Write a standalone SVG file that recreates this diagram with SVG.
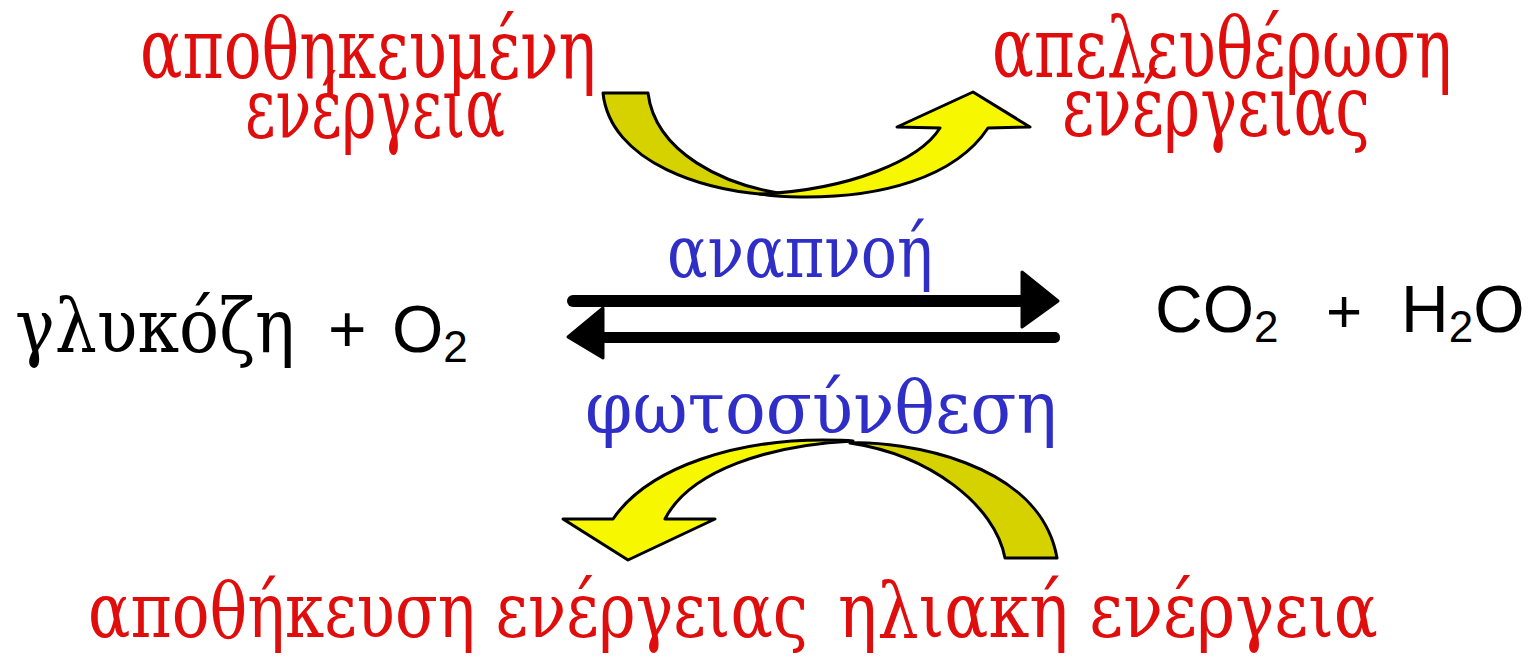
<svg xmlns="http://www.w3.org/2000/svg" width="1532" height="657" viewBox="0 0 1532 657">
<style>
.red{font-family:"DejaVu Serif","Liberation Serif",serif;fill:#e00d0d;}
.blue{font-family:"DejaVu Serif","Liberation Serif",serif;fill:#2f2fc8;}
.ser{font-family:"DejaVu Serif","Liberation Serif",serif;fill:#000;}
.sans{font-family:"Liberation Sans",Arial,sans-serif;fill:#000;}
.dark{fill:#d6d200;stroke:#000;stroke-width:3;stroke-linejoin:round;}
.bright{fill:#f7f700;stroke:#000;stroke-width:3;stroke-linejoin:round;}
</style>
<rect width="1532" height="657" fill="#fff"/>
<g id="stored-energy">
<text class="red" x="140" y="78" font-size="84" textLength="456" lengthAdjust="spacingAndGlyphs">αποθηκευμένη</text>
<text class="red" x="245" y="137" font-size="84" textLength="260" lengthAdjust="spacingAndGlyphs">ενέργεια</text>
</g>
<g id="release-energy">
<text class="red" x="992" y="77" font-size="84" textLength="460" lengthAdjust="spacingAndGlyphs">απελευθέρωση</text>
<text class="red" x="1062" y="135" font-size="84" textLength="308" lengthAdjust="spacingAndGlyphs">ενέργειας</text>
</g>
<g id="reactants">
<text class="ser" x="15" y="352" font-size="75" textLength="280" lengthAdjust="spacingAndGlyphs">γλυκόζη</text>
<text class="sans" x="328" y="352" font-size="66">+</text>
<text class="sans" x="392" y="352" font-size="66">O<tspan font-size="44" dy="10">2</tspan></text>
</g>
<g id="products">
<text class="sans" x="1155" y="332" font-size="66">CO<tspan font-size="44" dy="10">2</tspan></text>
<text class="sans" x="1326" y="332" font-size="62">+</text>
<text class="sans" x="1401" y="332" font-size="66">H<tspan font-size="44" dy="10">2</tspan><tspan dy="-10">O</tspan></text>
</g>
<g id="respiration">
<text class="blue" x="667" y="277" font-size="72" textLength="266" lengthAdjust="spacingAndGlyphs">αναπνοή</text>
</g>
<g id="photosynthesis">
<text class="blue" x="585" y="433" font-size="72" textLength="472" lengthAdjust="spacingAndGlyphs">φωτοσύνθεση</text>
</g>
<g id="energy-storage">
<text class="red" x="88" y="637" font-size="76" textLength="720" lengthAdjust="spacingAndGlyphs">αποθήκευση ενέργειας</text>
</g>
<g id="solar-energy">
<text class="red" x="838" y="637" font-size="76" textLength="540" lengthAdjust="spacingAndGlyphs">ηλιακή ενέργεια</text>
</g>
<g id="connectors">
<rect x="567" y="295" width="460" height="12" rx="6" fill="#000"/>
<polygon points="1022,272 1058,301 1022,327" fill="#000" stroke="#000" stroke-width="3" stroke-linejoin="round"/>
<rect x="600" y="332" width="460" height="11" rx="5" fill="#000"/>
<polygon points="603,308 568,337 603,358" fill="#000" stroke="#000" stroke-width="3" stroke-linejoin="round"/>
<path class="dark" d="M603,93 L648,93 C655,150 720,188 800,196 C700,196 610,160 603,93 Z"/>
<path class="bright" d="M760,194 C850,190 920,160 940,128 L897,127 L973,92 L1030,127 L988,128 C955,178 880,198 800,197 C785,197 772,196 760,194 Z"/>
<path class="dark" d="M1057,558 L1005,558 C995,505 930,455 850,443 C900,441 1040,460 1057,558 Z"/>
<path class="bright" d="M853,441 C770,445 690,470 665,519 L715,519 L628,560 L563,519 L613,519 C650,465 740,440 823,440 C835,440 845,440 853,441 Z"/>
</g>
</svg>
